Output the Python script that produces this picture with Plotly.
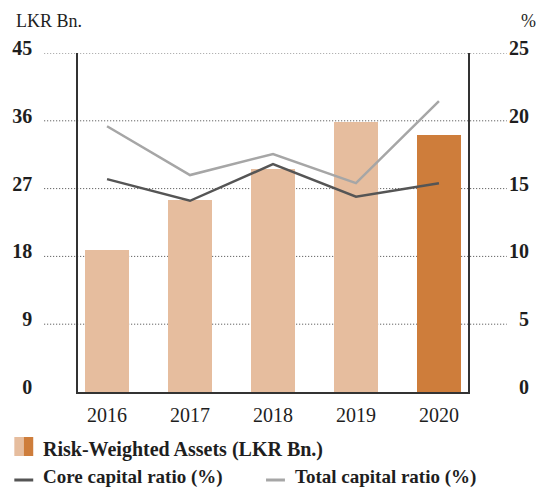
import plotly.graph_objects as go

# Data
years = ["2016", "2017", "2018", "2019", "2020"]
rwa = [18.8, 25.5, 29.6, 35.9, 34.1]            # Risk-weighted assets, LKR Bn.
core_ratio = [15.7, 14.1, 16.8, 14.4, 15.4]      # %
total_ratio = [19.6, 16.0, 17.55, 15.4, 21.45]   # %
left_ticks = [0, 9, 18, 27, 36, 45]
right_ticks = [0, 5, 10, 15, 20, 25]

W, H = 544, 490
ML, MR, MT, MB = 76, 76, 53, 98
PW, PH = W - ML - MR, H - MT - MB

LIGHT = "#E6BD9E"
DARK = "#CE7D3B"
CORE = "#555555"
TOTAL = "#A6A6A6"
INK = "#1E1E1E"
FONT = "'Liberation Serif', 'Times New Roman', Times, serif"


def px_x(p):
    return (p - ML) / PW


def px_y(p):
    return (H - MB - p) / PH


bar_colors = [LIGHT] * (len(years) - 1) + [DARK]

fig = go.Figure()
fig.add_trace(go.Bar(x=years, y=rwa, marker=dict(color=bar_colors, line=dict(width=0)),
                     width=0.525, yaxis="y", showlegend=False))
fig.add_trace(go.Scatter(x=years, y=total_ratio, mode="lines", yaxis="y2",
                         line=dict(color=TOTAL, width=2.5), showlegend=False))
fig.add_trace(go.Scatter(x=years, y=core_ratio, mode="lines", yaxis="y2",
                         line=dict(color=CORE, width=2.5), showlegend=False))

shapes = []
# dotted grid, running past the frame to the tick labels
for v in left_ticks[1:]:
    shapes.append(dict(type="line", xref="paper", yref="y", x0=px_x(42), x1=px_x(507),
                       y0=v, y1=v, layer="below",
                       line=dict(color="#444444", width=1, dash="1px,2px")))

# legend swatches
shapes += [
    dict(type="rect", xref="paper", yref="paper", x0=px_x(12), x1=px_x(21.5),
         y0=px_y(456), y1=px_y(437), fillcolor=LIGHT, line=dict(width=0)),
    dict(type="rect", xref="paper", yref="paper", x0=px_x(21.5), x1=px_x(31),
         y0=px_y(456), y1=px_y(437), fillcolor=DARK, line=dict(width=0)),
    dict(type="line", xref="paper", yref="paper", x0=px_x(12), x1=px_x(31),
         y0=px_y(480), y1=px_y(480), line=dict(color=CORE, width=3)),
    dict(type="line", xref="paper", yref="paper", x0=px_x(265), x1=px_x(284),
         y0=px_y(480), y1=px_y(480), line=dict(color=TOTAL, width=3)),
]

ann = []


def label(text, x, y, anchor="left", bold=True, size=19):
    ann.append(dict(text=text, xref="paper", yref="paper", x=px_x(x), y=px_y(y),
                    xanchor=anchor, yanchor="middle", showarrow=False,
                    font=dict(family=FONT, size=size, color=INK,
                              weight="bold" if bold else "normal")))


label("LKR Bn.", 12, 21, bold=False, size=18)
label("%", 538, 21, anchor="right", bold=False, size=18)
label("Risk-Weighted Assets (LKR Bn.)", 39, 449, size=20)
label("Core capital ratio (%)", 39, 477)
label("Total capital ratio (%)", 292, 477)

# right-hand tick labels, right-aligned beside the axis
for v in right_ticks:
    ann.append(dict(text=str(v), xref="paper", yref="y2", x=px_x(531), y=v,
                    xanchor="right", yanchor="middle", yshift=5, showarrow=False,
                    font=dict(family=FONT, size=20, color=INK, weight="bold")))

fig.update_layout(
    width=W, height=H,
    margin=dict(l=ML, r=MR, t=MT, b=MB),
    paper_bgcolor="white", plot_bgcolor="white",
    showlegend=False, bargap=0,
    font=dict(family=FONT, color=INK),
    xaxis=dict(type="category", range=[-0.35, 4.35], showline=True, linecolor="#333333",
               linewidth=1.5, ticks="", showgrid=False, zeroline=False,
               tickfont=dict(family=FONT, size=20, color=INK), ticklabelstandoff=4),
    yaxis=dict(range=[0, 45], tickvals=left_ticks, showline=True, linecolor="#333333",
               linewidth=1.5, ticks="", showgrid=False, zeroline=False,
               tickfont=dict(family=FONT, size=20, color=INK, weight="bold"),
               ticklabelstandoff=40, ticklabelshift=-5),
    yaxis2=dict(range=[0, 25], overlaying="y", side="right", tickvals=right_ticks,
                showticklabels=False, showline=True, linecolor="#333333", linewidth=1.5,
                ticks="", showgrid=False, zeroline=False),
    shapes=shapes, annotations=ann,
)

fig.write_html("out.html")
